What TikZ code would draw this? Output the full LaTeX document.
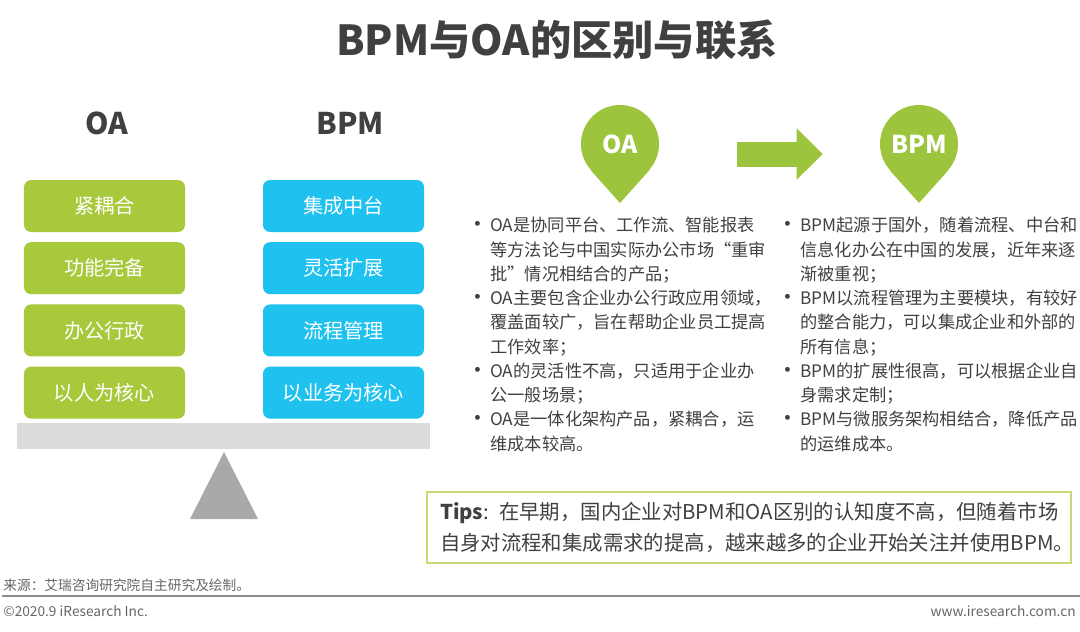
\documentclass[tikz,border=0pt]{standalone}
\usepackage{fontspec}
\setmainfont{Noto Sans CJK SC}
\usepackage{tikz}
\usetikzlibrary{positioning, arrows.meta, calc}

\definecolor{oagreen}{HTML}{A8C93B}
\definecolor{pingreen}{HTML}{9DC43D}
\definecolor{bpmblue}{HTML}{1FC1EE}
\definecolor{txtgray}{HTML}{404040}
\definecolor{bargray}{HTML}{DCDCDC}
\definecolor{basegray}{HTML}{A9A9A9}
\definecolor{tipline}{HTML}{C6DB78}

\newcommand{\bul}{\makebox[0.48cm][l]{\raisebox{-0.6pt}{\fontsize{13pt}{13pt}\selectfont•}}}
\newcommand{\ind}{\hspace*{0.48cm}}

\begin{document}
\begin{tikzpicture}[x=0.2mm, y=0.2mm, >=Stealth,
    box/.style={rounded corners=4pt, minimum width=3.22cm, minimum height=1.04cm, inner sep=0pt,
        text=white, font=\fontsize{11.5pt}{13pt}\selectfont},
    oabox/.style={box, fill=oagreen},
    bpmbox/.style={box, fill=bpmblue},
    head/.style={text=txtgray, font=\bfseries\fontsize{17pt}{20pt}\selectfont},
    pinhead/.style={circle, fill=pingreen, minimum size=1.56cm, inner sep=0pt,
        text=white, font=\bfseries\fontsize{14pt}{16pt}\selectfont},
    col/.style={anchor=north west, align=left, inner sep=0pt, text=txtgray,
        font=\fontsize{9.8pt}{13.8pt}\selectfont},
    small/.style={text=black!60, inner sep=0pt, font=\fontsize{7.8pt}{9pt}\selectfont}]
    \useasboundingbox (0,0) rectangle (1080,631);
    % Title
    \node[text=txtgray, font=\bfseries\fontsize{23.5pt}{27pt}\selectfont] (title) at (557,591) {BPM与OA的区别与联系};
    % Column heads
    \node[head] (oahead) at (107,508) {OA};
    \node[head] (bpmhead) at (350,508) {BPM};
    % OA stack
    \node[oabox] (oa1) at (104.5,425) {紧耦合};
    \node[oabox, below=0.19cm of oa1] (oa2) {功能完备};
    \node[oabox, below=0.19cm of oa2] (oa3) {办公行政};
    \node[oabox, below=0.19cm of oa3] (oa4) {以人为核心};
    % BPM stack
    \node[bpmbox] (bpm1) at (343.5,425) {集成中台};
    \node[bpmbox, below=0.19cm of bpm1] (bpm2) {灵活扩展};
    \node[bpmbox, below=0.19cm of bpm2] (bpm3) {流程管理};
    \node[bpmbox, below=0.19cm of bpm3] (bpm4) {以业务为核心};
    % Beam and base of the balance
    \fill[bargray] (17,208) rectangle (430,182);
    \fill[basegray] (224,179) -- (258,112) -- (190,112) -- cycle;
    % Pins
    \node[pinhead] (oapin) at (620,487) {OA};
    \node[pinhead] (bpmpin) at (919,487) {BPM};
    \path (oapin.center) ++(0,-59) coordinate (oatip);
    \path (bpmpin.center) ++(0,-59) coordinate (bpmtip);
    \fill[pingreen] (oapin.-41.4) -- (oatip) -- (oapin.-138.6) -- cycle;
    \fill[pingreen] (bpmpin.-41.4) -- (bpmtip) -- (bpmpin.-138.6) -- cycle;
    % Big arrow OA -> BPM
    \draw[pingreen, line width=0.5cm, -{Triangle[width=1cm, length=0.52cm]},
        shorten <=1.56cm, shorten >=1.14cm]
        ([yshift=-0.2cm]oapin.east) -- ([yshift=-0.2cm]bpmpin.west);
    % Bullet lists
    \node[col] (oalist) at (466,414) {%
        \bul OA是协同平台、工作流、智能报表\\
        \ind 等方法论与中国实际办公市场“重审\\
        \ind 批”情况相结合的产品；\\
        \bul OA主要包含企业办公行政应用领域，\\
        \ind 覆盖面较广，旨在帮助企业员工提高\\
        \ind 工作效率；\\
        \bul OA的灵活性不高，只适用于企业办\\
        \ind 公一般场景；\\
        \bul OA是一体化架构产品，紧耦合，运\\
        \ind 维成本较高。};
    \node[col] (bpmlist) at (776,414) {%
        \bul BPM起源于国外，随着流程、中台和\\
        \ind 信息化办公在中国的发展，近年来逐\\
        \ind 渐被重视；\\
        \bul BPM以流程管理为主要模块，有较好\\
        \ind 的整合能力，可以集成企业和外部的\\
        \ind 所有信息；\\
        \bul BPM的扩展性很高，可以根据企业自\\
        \ind 身需求定制；\\
        \bul BPM与微服务架构相结合，降低产品\\
        \ind 的运维成本。};
    % Tips
    \node[draw=tipline, line width=1.4pt, text width=12.36cm, minimum height=1.42cm,
        inner xsep=0.26cm, inner ysep=0pt, align=left, text=txtgray,
        font=\fontsize{11.6pt}{17.6pt}\selectfont] (tips) at (749,103.5)
        {{\bfseries Tips}: 在早期，国内企业对BPM和OA区别的认知度不高，但随着市场\\
         自身对流程和集成需求的提高，越来越多的企业开始关注并使用BPM。};
    % Footer
    \node[small, anchor=west] (source) at (3,46) {来源：艾瑞咨询研究院自主研究及绘制。};
    \draw[black!45, line width=1.2pt] (2,35) -- (1080,35);
    \node[small, anchor=west] (copy) at (3,20) {©2020.9 iResearch Inc.};
    \node[small, anchor=east] (web) at (1076,20) {www.iresearch.com.cn};
\end{tikzpicture}
\end{document}
